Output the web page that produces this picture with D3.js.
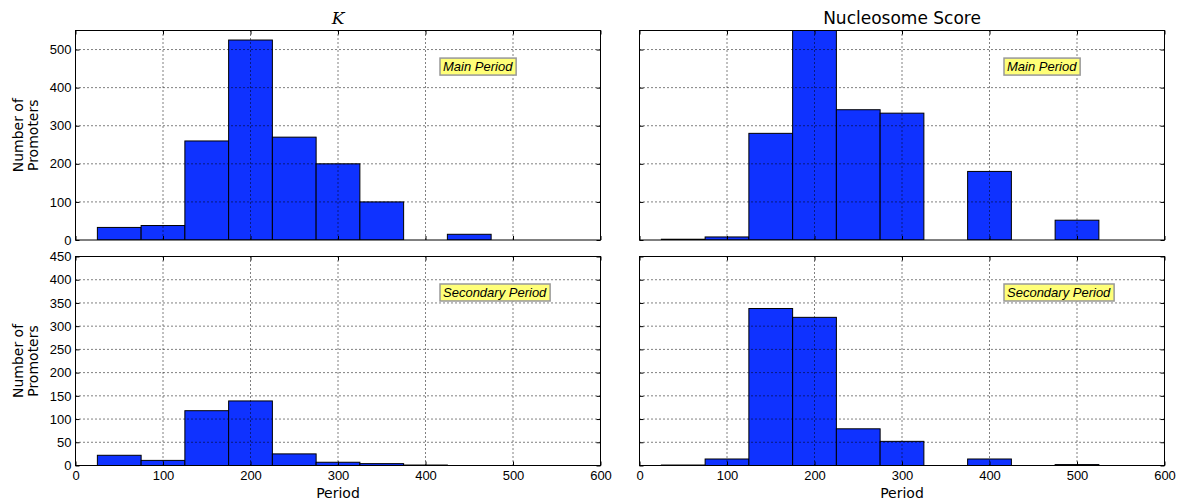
<!DOCTYPE html>
<html>
<head>
<meta charset="utf-8">
<script src="https://cdn.jsdelivr.net/npm/d3@7"></script>
<style>
  body { margin: 0; background: #fff; }
  svg { display: block; font-family: "DejaVu Sans", sans-serif; }
  .tick text { font-size: 13px; fill: #000; }
  .note { font-family: "Liberation Sans", Arial, sans-serif; font-style: italic; font-size: 13px; }
</style>
</head>
<body>
<svg id="chart" width="1188" height="504"></svg>
<script>
// bin edges for every histogram (width 50)
const binEdges = [25, 75, 125, 175, 225, 275, 325, 375, 425, 475, 525, 575];

// counts per bin
const kMain = [33, 38, 260, 525, 270, 200, 100, 0, 15, 0, 0];
const nucMain = [2, 8, 280, 600, 342, 333, 0, 180, 0, 52, 0];
const kSecondary = [22, 11, 118, 139, 25, 7, 4, 1, 0, 0, 0];
const nucSecondary = [1, 14, 338, 319, 79, 52, 0, 14, 0, 2, 0];

const xTicks = [0, 100, 200, 300, 400, 500, 600];
const yTicksTop = [0, 100, 200, 300, 400, 500];
const yTicksBottom = [0, 50, 100, 150, 200, 250, 300, 350, 400, 450];

const colTitles = ["K", "Nucleosome Score"];
const notes = ["Main Period", "Secondary Period"];

const barColor = "#0f32ff";

const svg = d3.select("#chart");

const colX = [75.5, 639.5];
const rowY = [30.5, 256.5];
const pw = 525, ph = [209.5, 209];

const panels = [
    { row: 0, col: 0, data: kMain, ymax: 550, yTicks: yTicksTop },
    { row: 0, col: 1, data: nucMain, ymax: 550, yTicks: yTicksTop },
    { row: 1, col: 0, data: kSecondary, ymax: 450, yTicks: yTicksBottom },
    { row: 1, col: 1, data: nucSecondary, ymax: 450, yTicks: yTicksBottom },
];

function binsOf(data) {
    return data.map((v, i) => ({ x0: binEdges[i], x1: binEdges[i + 1], v: v }));
}

panels.forEach((p, idx) => {
    const h = ph[p.row];
    const x = d3.scaleLinear().domain([0, 600]).range([0, pw]);
    const y = d3.scaleLinear().domain([0, p.ymax]).range([h, 0]);

    const g = svg.append("g")
        .attr("transform", "translate(" + colX[p.col] + "," + rowY[p.row] + ")");

    svg.append("clipPath").attr("id", "clip" + idx)
        .append("rect").attr("width", pw).attr("height", h);

    // bars
    g.append("g").attr("clip-path", "url(#clip" + idx + ")")
        .selectAll("rect")
        .data(binsOf(p.data))
        .enter().append("rect")
        .attr("x", d => x(d.x0))
        .attr("y", d => y(d.v))
        .attr("width", d => x(d.x1) - x(d.x0))
        .attr("height", d => h - y(d.v))
        .attr("fill", barColor)
        .attr("stroke", "#000")
        .attr("stroke-width", 1);

    // grid
    g.append("g").selectAll("line")
        .data(xTicks.slice(1, -1))
        .enter().append("line")
        .attr("x1", d => x(d)).attr("x2", d => x(d))
        .attr("y1", 0).attr("y2", h)
        .attr("stroke", "#000").attr("stroke-width", 1)
        .attr("stroke-dasharray", "1,3");
    g.append("g").selectAll("line")
        .data(p.yTicks.filter(t => t > 0 && t < p.ymax))
        .enter().append("line")
        .attr("x1", 0).attr("x2", pw)
        .attr("y1", d => y(d)).attr("y2", d => y(d))
        .attr("stroke", "#000").attr("stroke-width", 1)
        .attr("stroke-dasharray", "1,3");

    // axes, ticks pointing inward on all four sides
    const left = d3.axisLeft(y).tickValues(p.yTicks).tickSizeInner(-4).tickSizeOuter(0).tickPadding(4);
    if (p.col == 1) left.tickFormat("");
    g.append("g").call(left);

    g.append("g").attr("transform", "translate(" + pw + ",0)")
        .call(d3.axisRight(y).tickValues(p.yTicks).tickSizeInner(-4).tickSizeOuter(0).tickFormat(""));

    const bottom = d3.axisBottom(x).tickValues(xTicks).tickSizeInner(-4).tickSizeOuter(0).tickPadding(5);
    if (p.row == 0) bottom.tickFormat("");
    g.append("g").attr("transform", "translate(0," + h + ")").call(bottom);

    g.append("g")
        .call(d3.axisTop(x).tickValues(xTicks).tickSizeInner(-4).tickSizeOuter(0).tickFormat(""));

    g.selectAll(".domain").remove();
    g.selectAll(".tick line").attr("stroke", "#000");

    // frame
    g.append("rect")
        .attr("width", pw).attr("height", h)
        .attr("fill", "none").attr("stroke", "#000").attr("stroke-width", 1);

    // annotation box
    const note = g.append("g").attr("transform", "translate(" + (pw * 0.7) + "," + (h * 0.172) + ")");
    const t = note.append("text")
        .attr("class", "note")
        .attr("x", 0).attr("y", 0)
        .attr("dy", "0.35em")
        .text(notes[p.row]);
    const bb = t.node().getBBox();
    note.insert("rect", "text")
        .attr("x", bb.x - 3).attr("y", bb.y - 1)
        .attr("width", bb.width + 6).attr("height", bb.height + 2)
        .attr("fill", "#ffff78")
        .attr("stroke", "#999")
        .attr("stroke-width", 1.5);

    // y label
    if (p.col == 0) {
        const yl = svg.append("text")
            .attr("transform", "translate(" + 26 + "," + (rowY[p.row] + h / 2) + ") rotate(-90)")
            .attr("text-anchor", "middle")
            .attr("font-size", 14);
        yl.append("tspan").attr("x", 0).attr("dy", "-0.25em").text("Number of");
        yl.append("tspan").attr("x", 0).attr("dy", "1.1em").text("Promoters");
    }

    // x label
    if (p.row == 1) {
        svg.append("text")
            .attr("x", colX[p.col] + pw / 2)
            .attr("y", 498)
            .attr("text-anchor", "middle")
            .attr("font-size", 14)
            .text("Period");
    }

    // column title
    if (p.row == 0) {
        const tt = svg.append("text")
            .attr("x", colX[p.col] + pw / 2)
            .attr("y", 24)
            .attr("text-anchor", "middle")
            .attr("font-size", 17)
            .text(colTitles[p.col]);
        if (p.col == 0) tt.attr("font-family", "DejaVu Serif").attr("font-style", "italic");
    }
});
</script>
</body>
</html>
